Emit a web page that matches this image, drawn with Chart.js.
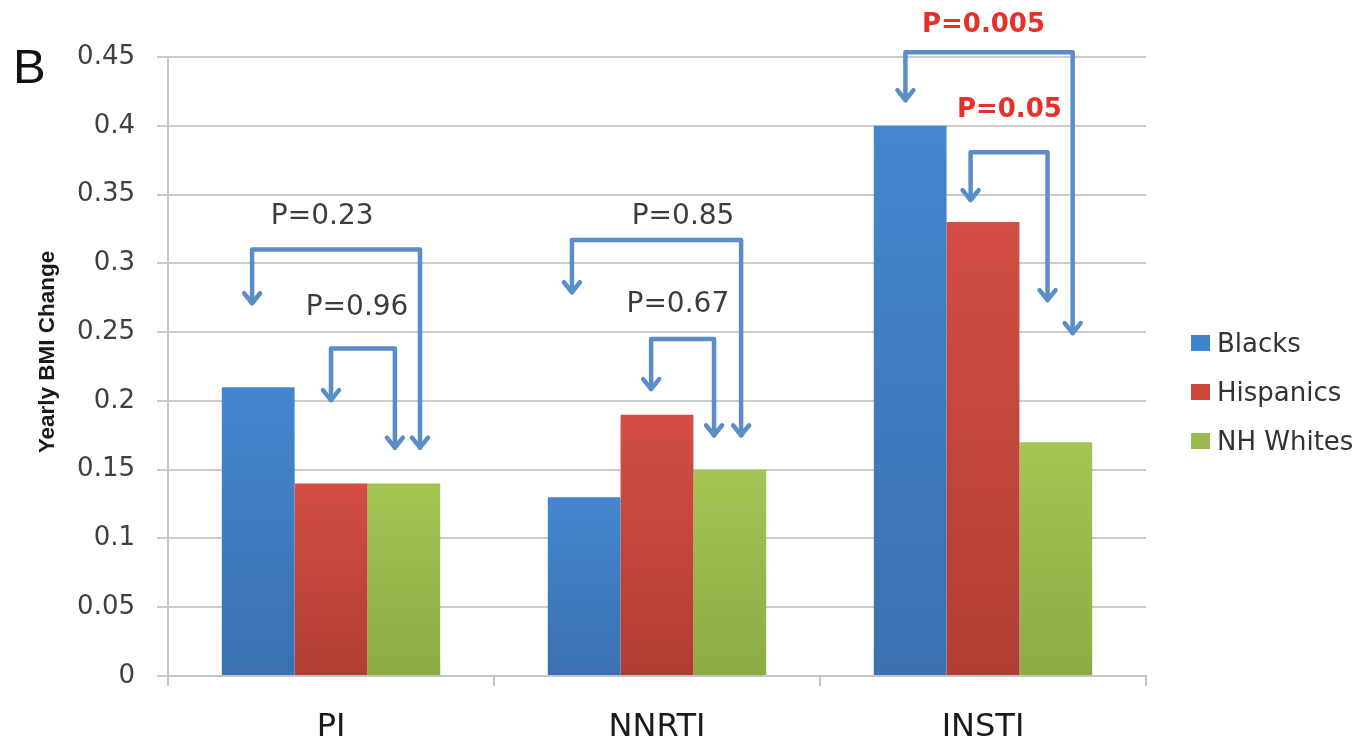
<!DOCTYPE html>
<html>
<head>
<meta charset="utf-8">
<script src="https://cdn.jsdelivr.net/npm/chart.js@4.4.1/dist/chart.umd.min.js"></script>
<style>
  html, body { margin: 0; padding: 0; background: #ffffff; }
  #wrap { width: 1371px; height: 741px; }
</style>
</head>
<body>
<div id="wrap"><canvas id="chart" width="1371" height="741"></canvas></div>
<script>
// Yearly BMI change by ART class and race/ethnicity
const categories = ['PI', 'NNRTI', 'INSTI'];
const seriesNames = ['Blacks', 'Hispanics', 'NH Whites'];
const blacks = [0.21, 0.13, 0.40];
const hispanics = [0.14, 0.19, 0.33];
const nhWhites = [0.14, 0.15, 0.17];
const yTickLabels = ['0', '0.05', '0.1', '0.15', '0.2', '0.25', '0.3', '0.35', '0.4', '0.45'];
const pValues = [0.23, 0.96, 0.85, 0.67, 0.005, 0.05];

// Vertical shading for each bar: lighter at its top, darker at the baseline
function barFill(top, bottom) {
  return (ctx) => {
    const chart = ctx.chart;
    if (!chart.chartArea || ctx.type !== 'data') return bottom;
    const y = chart.scales.y;
    const y0 = y.getPixelForValue(0);
    const y1 = y.getPixelForValue(ctx.raw);
    const g = chart.ctx.createLinearGradient(0, y1, 0, y0);
    g.addColorStop(0, top);
    g.addColorStop(1, bottom);
    return g;
  };
}

const swatches = ['#3f83cd', '#cd453b', '#9bbb51'];

// Comparison brackets: category index, x offsets in category units, heights in axis units
const brackets = [
  { cat: 0, xl: -0.242, xr: 0.273, top: 0.310, tipL: 0.271, tipR: 0.166, p: 0, lx: -0.027, ly: 0.334, red: false },
  { cat: 0, xl: 0.000, xr: 0.196, top: 0.238, tipL: 0.2006, tipR: 0.166, p: 1, lx: 0.080, ly: 0.268, red: false },
  { cat: 1, xl: -0.261, xr: 0.258, top: 0.317, tipL: 0.279, tipR: 0.175, p: 2, lx: 0.080, ly: 0.334, red: false },
  { cat: 1, xl: -0.018, xr: 0.175, top: 0.245, tipL: 0.2086, tipR: 0.175, p: 3, lx: 0.064, ly: 0.270, red: false },
  { cat: 2, xl: -0.238, xr: 0.275, top: 0.4535, tipL: 0.4186, tipR: 0.2493, p: 4, lx: 0.0015, ly: 0.473, red: true },
  { cat: 2, xl: -0.038, xr: 0.198, top: 0.3808, tipL: 0.346, tipR: 0.2733, p: 5, lx: 0.081, ly: 0.411, red: true }
];

const bracketPlugin = {
  id: 'brackets',
  afterDatasetsDraw(chart) {
    const { ctx, scales: { x, y } } = chart;
    ctx.save();
    ctx.strokeStyle = '#5b8dc6';
    ctx.lineWidth = 4.5;
    ctx.lineJoin = 'round';
    ctx.lineCap = 'round';
    const head = (px, py) => {
      ctx.beginPath();
      ctx.moveTo(px - 8, py - 10);
      ctx.lineTo(px, py);
      ctx.lineTo(px + 8, py - 10);
      ctx.stroke();
    };
    brackets.forEach(b => {
      const xl = x.getPixelForValue(b.cat + b.xl);
      const xr = x.getPixelForValue(b.cat + b.xr);
      const yt = y.getPixelForValue(b.top);
      const yl = y.getPixelForValue(b.tipL);
      const yr = y.getPixelForValue(b.tipR);
      ctx.beginPath();
      ctx.moveTo(xl, yl);
      ctx.lineTo(xl, yt);
      ctx.lineTo(xr, yt);
      ctx.lineTo(xr, yr);
      ctx.stroke();
      head(xl, yl);
      head(xr, yr);
    });
    ctx.textAlign = 'center';
    ctx.textBaseline = 'middle';
    brackets.forEach(b => {
      const tx = x.getPixelForValue(b.cat + b.lx);
      const ty = y.getPixelForValue(b.ly);
      if (b.red) {
        ctx.font = 'bold 26px "DejaVu Sans"';
        ctx.fillStyle = '#e8302a';
      } else {
        ctx.font = '28px "DejaVu Sans"';
        ctx.fillStyle = '#3c3c3c';
      }
      ctx.fillText('P=' + pValues[b.p], tx, ty);
    });
    ctx.restore();
  }
};

// Panel letter, axis title and the series key
const decorPlugin = {
  id: 'decor',
  afterDraw(chart) {
    const { ctx } = chart;
    ctx.save();
    ctx.fillStyle = '#111111';
    ctx.font = '49px "Liberation Sans"';
    ctx.textAlign = 'left';
    ctx.textBaseline = 'alphabetic';
    ctx.fillText('B', 13, 83);

    ctx.translate(48, 352);
    ctx.rotate(-Math.PI / 2);
    ctx.font = 'bold 22.5px "Liberation Sans"';
    ctx.textAlign = 'center';
    ctx.textBaseline = 'middle';
    ctx.fillStyle = '#1a1a1a';
    ctx.fillText('Yearly BMI Change', 0, 0);
    ctx.setTransform(1, 0, 0, 1, 0, 0);

    ctx.font = '26px "DejaVu Sans"';
    ctx.textAlign = 'left';
    ctx.textBaseline = 'middle';
    chart.data.datasets.forEach((ds, i) => {
      const cy = 344 + i * 49;
      ctx.fillStyle = swatches[i];
      ctx.fillRect(1191, cy - 9, 19, 16);
      ctx.fillStyle = '#333333';
      ctx.fillText(ds.label, 1217, cy + 1);
    });
    ctx.restore();
  }
};

new Chart(document.getElementById('chart'), {
  type: 'bar',
  data: {
    labels: categories,
    datasets: [
      { label: seriesNames[0], data: blacks, backgroundColor: barFill('#4487d0', '#3a70b0') },
      { label: seriesNames[1], data: hispanics, backgroundColor: barFill('#d34e44', '#b03d34') },
      { label: seriesNames[2], data: nhWhites, backgroundColor: barFill('#a4c553', '#8cab44') }
    ]
  },
  options: {
    responsive: false,
    animation: false,
    devicePixelRatio: 1,
    layout: { padding: { left: 0, top: 57, right: 225, bottom: 0 } },
    datasets: { bar: { categoryPercentage: 0.67, barPercentage: 1.0, borderWidth: 0 } },
    plugins: { legend: { display: false }, tooltip: { enabled: false } },
    scales: {
      x: {
        offset: true,
        afterFit(scale) { scale.height = 65; },
        grid: { offset: true, drawOnChartArea: false, tickLength: 10, color: '#c4c4c4', lineWidth: 2 },
        border: { color: '#c4c4c4', width: 2 },
        ticks: { font: { family: 'DejaVu Sans', size: 32 }, color: '#1a1a1a', padding: 22 }
      },
      y: {
        min: 0,
        max: 0.45,
        afterFit(scale) { scale.width = 168; },
        grid: { color: '#cbcbcb', lineWidth: 2, tickLength: 11 },
        border: { color: '#c4c4c4', width: 2 },
        ticks: {
          stepSize: 0.05,
          padding: 22,
          font: { family: 'DejaVu Sans', size: 26 },
          color: '#404040',
          callback: (value, index) => yTickLabels[index]
        }
      }
    }
  },
  plugins: [bracketPlugin, decorPlugin]
});
</script>
</body>
</html>
